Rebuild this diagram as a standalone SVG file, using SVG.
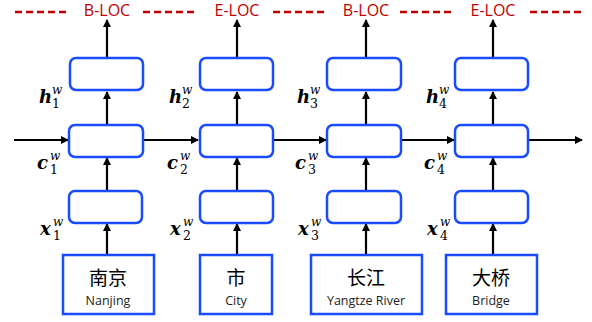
<svg xmlns="http://www.w3.org/2000/svg" width="592" height="322" viewBox="0 0 592 322">
<defs>
<marker id="ah" markerWidth="8" markerHeight="8" refX="7" refY="4" orient="auto" markerUnits="userSpaceOnUse">
<path d="M0,0 L8,4 L0,8 Z" fill="#000"/>
</marker>
<style>
.cell{fill:#fff;stroke:#1a4cff;stroke-width:2.5}
.word{fill:#fff;stroke:#1a4cff;stroke-width:2.5}
.con{stroke:#000;stroke-width:2.2;fill:none;marker-end:url(#ah)}
.tag{font-family:"Open Sans","Liberation Sans",sans-serif;font-size:16px;fill:#c00000;text-anchor:middle}
.dash{stroke:#c00000;stroke-width:2.5;stroke-dasharray:7,4}
.zh{font-family:"Noto Sans CJK SC",sans-serif;font-size:19px;fill:#000;text-anchor:middle}
.en{font-family:"Open Sans","Liberation Sans",sans-serif;font-size:12.5px;fill:#222;text-anchor:middle}
.var{font-family:"DejaVu Serif",serif;font-size:18px;font-weight:bold;font-style:italic;fill:#000}
.sup{font-family:"DejaVu Serif",serif;font-size:12px;font-style:italic;fill:#000}
.sub{font-family:"DejaVu Serif",serif;font-size:12.5px;fill:#000}
</style>
</defs>
<rect width="592" height="322" fill="#fff"/>
<g id="tags">
<line class="dash" x1="15" y1="12" x2="66" y2="12"/>
<line class="dash" x1="143" y1="12" x2="196" y2="12"/>
<line class="dash" x1="273" y1="12" x2="326" y2="12"/>
<line class="dash" x1="400" y1="12" x2="452" y2="12"/>
<line class="dash" x1="530" y1="12" x2="582" y2="12"/>
<text class="tag" x="107" y="16">B-LOC</text>
<text class="tag" x="237" y="16">E-LOC</text>
<text class="tag" x="366" y="16">B-LOC</text>
<text class="tag" x="493" y="16">E-LOC</text>
</g>
<g id="connectors">
<line class="con" x1="107" y1="58" x2="107" y2="20"/>
<line class="con" x1="237" y1="58" x2="237" y2="20"/>
<line class="con" x1="366" y1="58" x2="366" y2="20"/>
<line class="con" x1="493" y1="58" x2="493" y2="20"/>
<line class="con" x1="107" y1="125" x2="107" y2="92"/>
<line class="con" x1="237" y1="125" x2="237" y2="92"/>
<line class="con" x1="366" y1="125" x2="366" y2="92"/>
<line class="con" x1="493" y1="125" x2="493" y2="92"/>
<line class="con" x1="107" y1="190" x2="107" y2="158"/>
<line class="con" x1="237" y1="190" x2="237" y2="158"/>
<line class="con" x1="366" y1="190" x2="366" y2="158"/>
<line class="con" x1="493" y1="190" x2="493" y2="158"/>
<line class="con" x1="107" y1="255" x2="107" y2="224"/>
<line class="con" x1="237" y1="255" x2="237" y2="224"/>
<line class="con" x1="366" y1="255" x2="366" y2="224"/>
<line class="con" x1="493" y1="255" x2="493" y2="224"/>
<line class="con" x1="14" y1="140" x2="68" y2="140"/>
<line class="con" x1="143" y1="140" x2="198" y2="140"/>
<line class="con" x1="273" y1="140" x2="326" y2="140"/>
<line class="con" x1="401" y1="140" x2="454" y2="140"/>
<line class="con" x1="529" y1="140" x2="582" y2="140"/>
</g>
<g id="col1">
<rect class="cell" x="70" y="58" width="73" height="32" rx="6"/>
<rect class="cell" x="69" y="125" width="74" height="32" rx="6"/>
<rect class="cell" x="69" y="191" width="73" height="32" rx="6"/>
<rect class="word" x="63" y="255" width="91" height="59"/>
<text class="zh" x="108" y="285">南京</text>
<text class="en" x="108" y="305">Nanjing</text>
</g>
<g id="col2">
<rect class="cell" x="200" y="58" width="73" height="32" rx="6"/>
<rect class="cell" x="200" y="125" width="73" height="32" rx="6"/>
<rect class="cell" x="200" y="191" width="73" height="32" rx="6"/>
<rect class="word" x="200" y="255" width="72" height="59"/>
<text class="zh" x="236" y="285">市</text>
<text class="en" x="236" y="305">City</text>
</g>
<g id="col3">
<rect class="cell" x="327" y="58" width="74" height="32" rx="6"/>
<rect class="cell" x="327" y="125" width="74" height="32" rx="6"/>
<rect class="cell" x="327" y="191" width="74" height="32" rx="6"/>
<rect class="word" x="311" y="255" width="111" height="59"/>
<text class="zh" x="366" y="285">长江</text>
<text class="en" x="366" y="305">Yangtze  River</text>
</g>
<g id="col4">
<rect class="cell" x="455" y="58" width="73" height="32" rx="6"/>
<rect class="cell" x="455" y="125" width="73" height="32" rx="6"/>
<rect class="cell" x="455" y="191" width="73" height="32" rx="6"/>
<rect class="word" x="446" y="255" width="91" height="59"/>
<text class="zh" x="491" y="285">大桥</text>
<text class="en" x="491" y="305">Bridge</text>
</g>
<g id="labels">
<text class="var" x="39" y="103">h</text><text class="sup" x="52" y="94">w</text><text class="sub" x="52" y="108">1</text>
<text class="var" x="169" y="103">h</text><text class="sup" x="182" y="94">w</text><text class="sub" x="182" y="108">2</text>
<text class="var" x="297" y="103">h</text><text class="sup" x="310" y="94">w</text><text class="sub" x="310" y="108">3</text>
<text class="var" x="426" y="103">h</text><text class="sup" x="439" y="94">w</text><text class="sub" x="439" y="108">4</text>
<text class="var" x="37" y="169">c</text><text class="sup" x="50" y="160">w</text><text class="sub" x="50" y="174">1</text>
<text class="var" x="167" y="169">c</text><text class="sup" x="180" y="160">w</text><text class="sub" x="180" y="174">2</text>
<text class="var" x="295" y="169">c</text><text class="sup" x="308" y="160">w</text><text class="sub" x="308" y="174">3</text>
<text class="var" x="424" y="169">c</text><text class="sup" x="437" y="160">w</text><text class="sub" x="437" y="174">4</text>
<text class="var" x="40" y="235">x</text><text class="sup" x="53" y="226">w</text><text class="sub" x="53" y="240">1</text>
<text class="var" x="170" y="235">x</text><text class="sup" x="183" y="226">w</text><text class="sub" x="183" y="240">2</text>
<text class="var" x="298" y="235">x</text><text class="sup" x="311" y="226">w</text><text class="sub" x="311" y="240">3</text>
<text class="var" x="427" y="235">x</text><text class="sup" x="440" y="226">w</text><text class="sub" x="440" y="240">4</text>
</g>
</svg>
